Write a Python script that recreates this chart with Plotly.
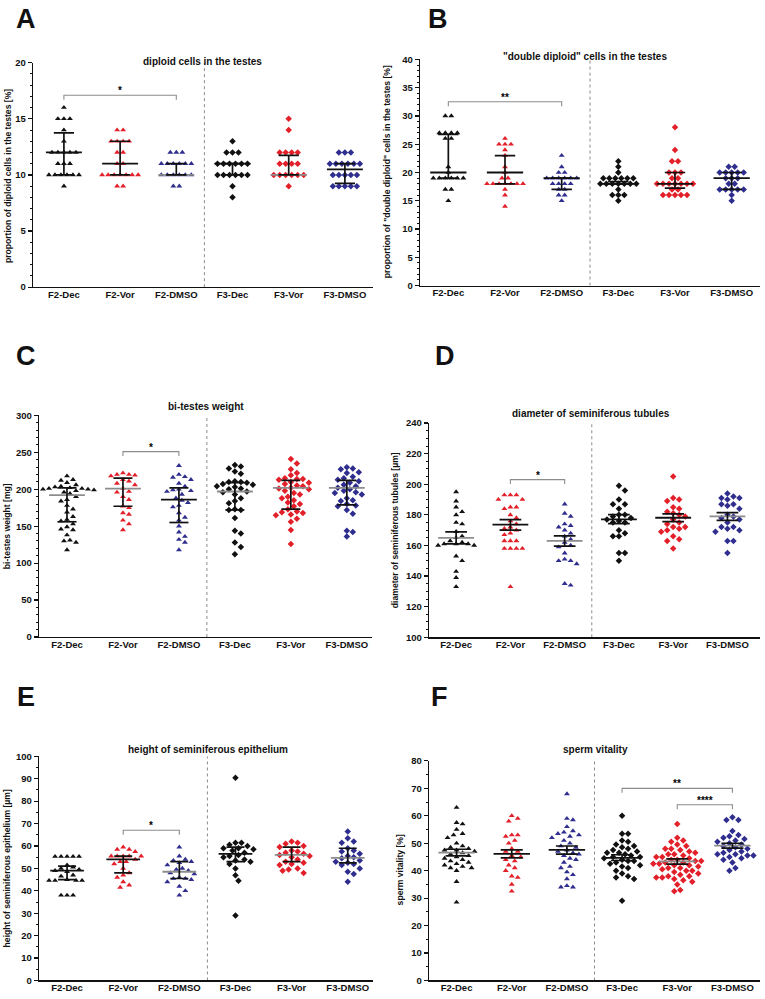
import plotly.graph_objects as go

W, H = 765, 999
CATS = ["F2-Dec", "F2-Vor", "F2-DMSO", "F3-Dec", "F3-Vor", "F3-DMSO"]

# ---------------- Panel A: diploid cells (%) ----------------
a_f2_dec = [16, 15, 15, 15, 14, 13, 12, 12, 12, 12, 12, 11, 11, 11, 10, 10, 10, 10, 10, 10, 9]
a_f2_vor = [14, 14, 13, 13, 13, 13, 12, 12, 11, 11, 10, 10, 10, 10, 10, 10, 10, 9, 9]
a_f2_dmso = [12, 12, 12, 11, 11, 11, 11, 11, 11, 10, 10, 10, 10, 10, 10, 9, 9]
a_f3_dec = [13, 12, 12, 12, 11, 11, 11, 11, 11, 11, 10, 10, 10, 10, 10, 10, 9, 8]
a_f3_vor = [15, 14, 12, 12, 12, 12, 11, 11, 11, 11, 10, 10, 10, 10, 10, 10, 9]
a_f3_dmso = [12, 12, 12, 11, 11, 11, 11, 11, 11, 10, 10, 10, 10, 10, 9, 9, 9, 9, 9]
a_center = [12, 11, 10, 11, 10, 10.5]
a_low = [10, 10, 10, 10, 10, 9.25]
a_high = [13.75, 13, 11, 11, 11.75, 11]

# ---------------- Panel B: "double diploid" cells (%) ----------------
b_f2_dec = [30, 30, 27, 27, 27, 27, 26, 26, 21, 20, 19, 19, 19, 19, 19, 19, 17, 17, 15]
b_f2_vor = [26, 25, 25, 25, 24, 23, 21, 20, 19, 19, 18, 18, 18, 18, 18, 18, 18, 17, 16, 14]
b_f2_dmso = [23, 21, 20, 20, 19, 19, 19, 19, 19, 19, 18, 18, 18, 18, 17, 17, 16, 16, 15]
b_f3_dec = [22, 21, 20, 19, 19, 19, 19, 19, 19, 18, 18, 18, 18, 18, 18, 18, 17, 16, 16, 16, 15]
b_f3_vor = [28, 24, 22, 22, 20, 20, 20, 19, 19, 18, 18, 18, 18, 18, 18, 18, 17, 17, 16, 16, 16, 16, 16]
b_f3_dmso = [21, 21, 20, 20, 20, 20, 20, 19, 19, 19, 18, 18, 17, 17, 17, 17, 17, 16, 15]
b_center = [20, 20, 19, 18, 18, 19]
b_low = [19, 18, 17, 18, 17.25, 17]
b_high = [26.75, 23, 19, 18.4, 20, 20]

# ---------------- Panel C: bi-testes weight (mg) ----------------
c_f2_dec = [218, 213, 212, 209, 206, 204, 203, 202, 201, 201, 200, 200, 199, 198, 196, 194, 190,
            186, 184, 178, 173, 169, 163, 159, 157, 153, 149, 146, 145, 138, 131, 130, 128, 118]
c_f2_vor = [222, 220, 220, 219, 218, 213, 211, 208, 206, 201, 197, 196, 190, 186, 177, 175, 168,
            166, 158, 153, 145]
c_f2_dmso = [232, 220, 217, 216, 213, 208, 204, 200, 199, 198, 197, 193, 188, 185, 182, 178, 176,
             168, 162, 158, 150, 142, 136, 132, 128, 118]
c_f3_dec = [233, 231, 228, 224, 221, 211, 210, 210, 209, 207, 206, 204, 203, 201, 200, 197, 196,
            193, 188, 184, 181, 173, 172, 172, 161, 144, 140, 128, 122, 112]
c_f3_vor = [241, 235, 227, 222, 219, 215, 214, 214, 213, 210, 209, 207, 205, 204, 202, 201, 200,
            198, 195, 193, 190, 188, 185, 182, 180, 177, 173, 170, 169, 168, 166, 165, 160, 156,
            145, 126]
c_f3_dmso = [230, 228, 227, 223, 222, 217, 215, 213, 211, 209, 206, 204, 202, 200, 198, 196, 195,
             193, 188, 185, 184, 180, 178, 177, 172, 167, 144, 142, 136]
c_center = [192, 201, 186, 197, 202, 202]
c_low = [156, 177, 155, 172, 173, 179]
c_high = [202, 215, 202, 209, 212, 212]

# ---------------- Panel D: diameter of seminiferous tubules (µm) ----------------
d_f2_dec = [195, 189, 185, 182, 180, 175, 174, 169, 166, 165, 163, 162, 161, 161, 161, 160, 160,
            153, 150, 143, 139, 133]
d_f2_vor = [193, 193, 193, 190, 190, 185, 184, 185, 180, 178, 176, 174, 172, 171, 170, 168, 167,
            163, 163, 163, 158, 158, 158, 158, 133]
d_f2_dmso = [187, 181, 179, 174, 173, 172, 170, 168, 166, 164, 162, 160, 159, 155, 151, 150, 150,
             148, 135, 134]
d_f3_dec = [199, 196, 190, 187, 187, 184, 180, 180, 179, 178, 177, 176, 175, 175, 170, 168, 166,
            166, 155, 155, 150]
d_f3_vor = [205, 191, 190, 189, 185, 184, 182, 181, 180, 179, 177, 175, 174, 172, 172, 171, 170,
            169, 166, 164, 163, 158]
d_f3_dmso = [194, 192, 191, 191, 190, 187, 187, 186, 184, 180, 179, 178, 177, 175, 172, 172, 171,
             170, 169, 163, 163, 155]
d_center = [165, 173.6, 163, 177.1, 178.1, 179]
d_low = [161.1, 170, 159.6, 174.3, 175.6, 176.4]
d_high = [168.9, 176.9, 166.3, 180.1, 180.7, 181.4]

# ---------------- Panel E: height of seminiferous epithelium (µm) ----------------
e_f2_dec = [55.3, 55.3, 55.3, 55.3, 55.3, 51.5, 50.5, 50, 49.5, 49, 48.5, 47, 46.5, 45, 44.6,
            44.6, 44.6, 44.6, 38, 38, 38]
e_f2_vor = [59.5, 58.5, 58.5, 57.5, 55.5, 55.5, 55.5, 55.5, 55.5, 54, 53, 53, 52, 50, 48, 47, 46,
            44, 42.5, 41.5]
e_f2_dmso = [59.5, 55.5, 54, 53.5, 53, 52.5, 51.5, 50, 49.5, 49, 48, 47.5, 46, 45.5, 45.5, 45,
             44, 42, 40, 38]
e_f3_dec = [90.5, 61.5, 61.5, 60.5, 60, 59, 59, 58.5, 58, 57, 56, 55.5, 55, 54, 53.5, 53, 52, 50,
            47, 44.5, 29]
e_f3_vor = [62, 61.5, 61, 60, 59.5, 58, 57.5, 57, 56.5, 56, 55.5, 55, 54, 53, 52.5, 52, 51.5, 50,
            49.5, 49, 48]
e_f3_dmso = [66.5, 63.5, 62, 61.5, 59, 58, 57.5, 56.5, 55.5, 55, 54.5, 53.5, 53, 52.5, 52, 51.5,
             50, 48.5, 47.5, 44]
e_center = [49, 54, 48.5, 56.5, 56, 54.7]
e_low = [45, 48, 45.5, 53, 53, 52.5]
e_high = [51, 55.5, 53, 59.5, 59.5, 59]

# ---------------- Panel F: sperm vitality (%) ----------------
f_f2_dec = [63, 57.5, 57, 55, 53.5, 53, 52, 50, 49, 48.5, 48, 47.5, 47.5, 47, 46.5, 46, 45.5, 45,
            44.5, 44, 43.5, 43, 42.5, 42, 41.5, 41, 41, 40, 36, 28.5]
f_f2_vor = [60, 59, 58, 53, 53, 52.5, 51, 50, 48, 47, 47, 45.5, 45, 44, 43.5, 42, 41, 40, 38, 37.5,
            35, 32.5]
f_f2_dmso = [68, 59, 58.5, 56, 54.5, 54, 53.5, 53, 52.5, 52, 51, 50, 49, 48.5, 47.5, 47, 46.5, 46,
             45.5, 44.5, 44, 43, 41.5, 41, 39.5, 38.5, 37, 34.5, 34, 34]
f_f3_dec = [60, 53.5, 53.5, 51, 50.5, 49.5, 49, 48.5, 48, 47.5, 47, 46.5, 46.5, 46, 45.5, 45, 45,
            44.5, 44, 43.5, 43.5, 43, 42.5, 42, 41.5, 41, 40, 39, 38, 37.5, 37, 29]
f_f3_vor = [57, 52, 51, 50.5, 49.5, 49, 48, 48, 47.5, 47, 46.5, 46, 46, 45.5, 45, 45, 44.5, 44,
            44, 43.5, 43.5, 43, 43, 42.5, 42.5, 42, 42, 41.5, 41, 41, 40.5, 40, 40, 39.5, 39, 38.5,
            38, 38, 37.5, 37.5, 37, 36.5, 36, 35, 33, 32.5]
f_f3_dmso = [59.5, 58.5, 58.5, 54.5, 53, 52.5, 52, 51.5, 51, 50.5, 50, 49.5, 49, 48.5, 48, 47.5,
             47, 46.5, 46, 46, 45.5, 45.5, 45, 44.5, 44, 43, 41, 40]
f_center = [46.6, 46.1, 47.6, 44.7, 43.4, 49.1]
f_low = [45.4, 44.7, 46.0, 43.7, 42.4, 48.2]
f_high = [47.8, 47.6, 49.0, 45.8, 44.3, 50.0]

# ---------------- styles / layout specs ----------------
COLORS = ["#111111", "#e3202a", "#2f2e8e", "#111111", "#e3202a", "#2f2e8e"]
SYMBOLS = ["triangle-up"] * 3 + ["diamond"] * 3
SIZES = [5.2, 5.2, 5.2, 5.0, 5.0, 5.0]
BLACK, GRAY = "#111111", "#8c8c8c"
FONT = "Liberation Sans, Arial, sans-serif"

panels = [
    dict(letter="A", groups=[a_f2_dec, a_f2_vor, a_f2_dmso, a_f3_dec, a_f3_vor, a_f3_dmso],
         center=a_center, low=a_low, high=a_high, gray=[0, 0, 1, 0, 1, 0], rows=True,
         title="diploid cells in the testes", ytitle="proportion of diploid cells in the testes [%]",
         px=(33, 373), py=(57.3, 284.3), xr=(-0.55, 5.5), yr=(0, 20), dtick=5, minor=1,
         title_pos=(202, 56), ytitle_pos=(8, 172), letter_pos=(26, 13), wide=0.32, cap=0.18,
         sig=[(0, 2, 17.1, "*")]),
    dict(letter="B", groups=[b_f2_dec, b_f2_vor, b_f2_dmso, b_f3_dec, b_f3_vor, b_f3_dmso],
         center=b_center, low=b_low, high=b_high, gray=[0, 0, 0, 0, 0, 0], rows=True,
         title='"double diploid" cells in the testes',
         ytitle='proportion of "double diploid" cells in the testes [%]',
         px=(420, 760), py=(54, 282.7), xr=(-0.5, 5.5), yr=(0, 40), dtick=5, minor=1,
         title_pos=(585, 51), ytitle_pos=(387, 168), letter_pos=(438, 13), wide=0.32, cap=0.18,
         sig=[(0, 2, 32.5, "**")]),
    dict(letter="C", groups=[c_f2_dec, c_f2_vor, c_f2_dmso, c_f3_dec, c_f3_vor, c_f3_dmso],
         center=c_center, low=c_low, high=c_high, gray=[1, 1, 0, 1, 1, 1], rows=False,
         title="bi-testes weight", ytitle="bi-testes weight [mg]",
         px=(39, 372), py=(414, 638), xr=(-0.5, 5.45), yr=(0, 300), dtick=50, minor=10,
         title_pos=(206, 405), ytitle_pos=(7, 526), letter_pos=(26, 354), wide=0.32, cap=0.17,
         sig=[(1, 2, 251, "*")]),
    dict(letter="D", groups=[d_f2_dec, d_f2_vor, d_f2_dmso, d_f3_dec, d_f3_vor, d_f3_dmso],
         center=d_center, low=d_low, high=d_high, gray=[1, 0, 1, 0, 0, 1], rows=False,
         title="diameter of seminiferous tubules", ytitle="diameter of seminiferous tubules [µm]",
         px=(429, 760), py=(421.7, 638.3), xr=(-0.5, 5.6), yr=(100, 240), dtick=20, minor=5,
         title_pos=(591, 412), ytitle_pos=(395, 530), letter_pos=(445, 354), wide=0.33, cap=0.2,
         sig=[(1, 2, 203, "*")]),
    dict(letter="E", groups=[e_f2_dec, e_f2_vor, e_f2_dmso, e_f3_dec, e_f3_vor, e_f3_dmso],
         center=e_center, low=e_low, high=e_high, gray=[0, 0, 1, 0, 1, 1], rows=False,
         title="height of seminiferous epithelium", ytitle="height of seminiferous epithelium [µm]",
         px=(39, 373), py=(758.7, 985.3), xr=(-0.5, 5.45), yr=(0, 100), dtick=10, minor=5,
         title_pos=(208, 752), ytitle_pos=(7, 872), letter_pos=(26, 699), wide=0.3, cap=0.16,
         sig=[(1, 2, 67, "*")]),
    dict(letter="F", groups=[f_f2_dec, f_f2_vor, f_f2_dmso, f_f3_dec, f_f3_vor, f_f3_dmso],
         center=f_center, low=f_low, high=f_high, gray=[1, 0, 0, 0, 1, 1], rows=False,
         title="sperm vitality", ytitle="sperm vitality [%]",
         px=(429, 760), py=(763.3, 985.3), xr=(-0.5, 5.5), yr=(0, 80), dtick=10, minor=5,
         title_pos=(595, 752), ytitle_pos=(400, 874), letter_pos=(440, 699), wide=0.33, cap=0.2,
         sig=[(3, 5, 70, "**"), (4, 5, 64, "****")]),
]


def swarm(vals, ppy, ppx, d=6.0, rows=False):
    """Horizontal offsets (in x-axis units) so that markers do not overlap."""
    n = len(vals)
    out = [0.0] * n
    if rows:
        counts = {}
        for v in vals:
            counts[v] = counts.get(v, 0) + 1
        seen = {}
        for i, v in enumerate(vals):
            k = seen.get(v, 0)
            seen[v] = k + 1
            out[i] = (k - (counts[v] - 1) / 2.0) * d / ppx
        return out
    placed = []
    step = d / 2.0
    cands = [0.0]
    for k in range(1, 40):
        cands += [k * step, -k * step]
    order = sorted(range(n), key=lambda i: -vals[i])
    for i in order:
        y = vals[i] * ppy
        for c in cands:
            if all((c - px_) ** 2 + (y - py_) ** 2 >= d * d * 0.9 for px_, py_ in placed):
                break
        placed.append((c, y))
        out[i] = c / ppx
    return out


def fx(px):
    return px / W


def fy(py):
    return 1 - py / H


fig = go.Figure()
annotations = []
layout = {}

for k, p in enumerate(panels):
    idx = "" if k == 0 else str(k + 1)
    xa, ya = "x" + idx, "y" + idx
    ppx = (p["px"][1] - p["px"][0]) / (p["xr"][1] - p["xr"][0])
    ppy = (p["py"][1] - p["py"][0]) / (p["yr"][1] - p["yr"][0])

    # separator between F2 and F3
    fig.add_trace(go.Scatter(x=[2.5, 2.5], y=list(p["yr"]), mode="lines", xaxis=xa, yaxis=ya,
                             line=dict(color="#8a8a8a", width=1, dash="dot"),
                             showlegend=False, hoverinfo="skip"))

    # points
    for g, vals in enumerate(p["groups"]):
        offs = swarm(vals, ppy, ppx, rows=p["rows"])
        fig.add_trace(go.Scatter(
            x=[g + o for o in offs], y=vals, mode="markers", xaxis=xa, yaxis=ya,
            marker=dict(symbol=SYMBOLS[g], color=COLORS[g], size=SIZES[g], line=dict(width=0)),
            showlegend=False, hoverinfo="skip"))

    # median / mean lines with whiskers
    for color_flag, col in ((0, BLACK), (1, GRAY)):
        xs, ys = [], []
        for g in range(6):
            if p["gray"][g] == color_flag:
                xs += [g - p["wide"], g + p["wide"], None]
                ys += [p["center"][g], p["center"][g], None]
        if xs:
            fig.add_trace(go.Scatter(x=xs, y=ys, mode="lines", xaxis=xa, yaxis=ya,
                                     line=dict(color=col, width=1.8),
                                     showlegend=False, hoverinfo="skip"))
    xs, ys = [], []
    for g in range(6):
        lo, hi = p["low"][g], p["high"][g]
        xs += [g, g, None, g - p["cap"], g + p["cap"], None, g - p["cap"], g + p["cap"], None]
        ys += [lo, hi, None, lo, lo, None, hi, hi, None]
    fig.add_trace(go.Scatter(x=xs, y=ys, mode="lines", xaxis=xa, yaxis=ya,
                             line=dict(color=BLACK, width=1.7),
                             showlegend=False, hoverinfo="skip"))

    # significance brackets
    tick = 4.5 / ppy
    for (g1, g2, yv, lab) in p["sig"]:
        fig.add_trace(go.Scatter(
            x=[g1, g1, g2, g2], y=[yv - tick, yv, yv, yv - tick], mode="lines",
            xaxis=xa, yaxis=ya, line=dict(color="#8c8c8c", width=1.1),
            showlegend=False, hoverinfo="skip"))
        annotations.append(dict(x=(g1 + g2) / 2, y=yv, xref=xa, yref=ya, text=lab,
                                showarrow=False, yanchor="bottom", yshift=-3,
                                font=dict(family=FONT, size=10, color="#000000", weight="bold")))

    layout["xaxis" + idx] = dict(
        domain=[fx(p["px"][0]), fx(p["px"][1])], range=list(p["xr"]), anchor=ya,
        tickvals=list(range(6)), ticktext=CATS, ticks="", showline=True, ticklabelstandoff=-2,
        linecolor=BLACK, linewidth=1.3, showgrid=False, zeroline=False, fixedrange=True,
        tickfont=dict(family=FONT, size=9.5, color="#111111", weight="bold"))
    layout["yaxis" + idx] = dict(
        domain=[fy(p["py"][1]), fy(p["py"][0])], range=list(p["yr"]), anchor=xa,
        tick0=p["yr"][0], dtick=p["dtick"], ticks="outside", ticklen=4, tickwidth=1.2,
        tickcolor=BLACK, showline=True, linecolor=BLACK, linewidth=1.3, showgrid=False,
        zeroline=False, fixedrange=True,
        minor=dict(dtick=p["minor"], ticks="outside", ticklen=2, tickwidth=1, tickcolor=BLACK,
                   showgrid=False),
        tickfont=dict(family=FONT, size=9.5, color="#111111", weight="bold"))

    # texts
    annotations.append(dict(x=fx(p["title_pos"][0]), y=fy(p["title_pos"][1]), xref="paper",
                            yref="paper", text=p["title"], showarrow=False, xanchor="center",
                            yanchor="middle",
                            font=dict(family=FONT, size=10, color="#111111", weight="bold")))
    annotations.append(dict(x=fx(p["ytitle_pos"][0]), y=fy(p["ytitle_pos"][1]), xref="paper",
                            yref="paper", text=p["ytitle"], showarrow=False, textangle=-90,
                            xanchor="center", yanchor="middle",
                            font=dict(family=FONT, size=8.6, color="#111111", weight="bold")))
    annotations.append(dict(x=fx(p["letter_pos"][0]), y=fy(p["letter_pos"][1]), xref="paper",
                            yref="paper", text=p["letter"], showarrow=False, xanchor="center",
                            yanchor="middle",
                            font=dict(family=FONT, size=27, color="#111111", weight="bold")))

fig.update_layout(
    width=W, height=H, margin=dict(l=0, r=0, t=0, b=0),
    paper_bgcolor="white", plot_bgcolor="white", showlegend=False, hovermode=False,
    annotations=annotations, **layout)

fig.write_html("out.html", config={"displayModeBar": False, "staticPlot": True},
               post_script="document.body.style.margin='0px';document.body.style.padding='0px';")
